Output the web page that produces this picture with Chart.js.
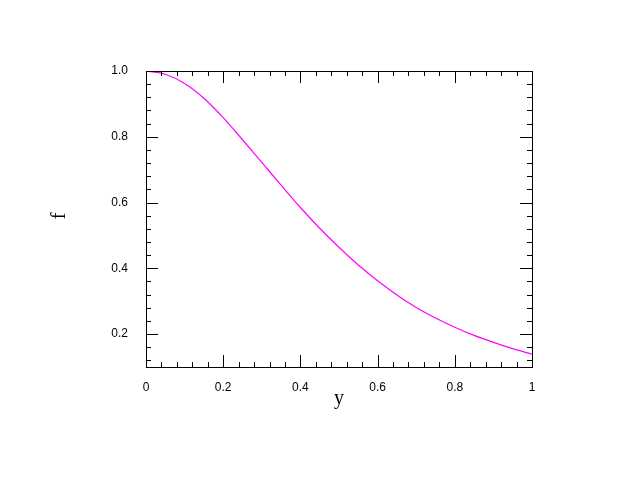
<!DOCTYPE html>
<html>
<head>
<meta charset="utf-8">
<title>f vs y</title>
<script src="https://cdn.jsdelivr.net/npm/chart.js@4/dist/chart.umd.min.js"></script>
<style>
  body { margin: 0; background: #fff; }
  #chart { display: block; }
</style>
</head>
<body>
<canvas id="chart" width="623" height="481"></canvas>
<script>
// values
const yValues = [0, 0.05, 0.1, 0.15, 0.2, 0.25, 0.3, 0.35, 0.4, 0.45, 0.5,
                 0.55, 0.6, 0.65, 0.7, 0.75, 0.8, 0.85, 0.9, 0.95, 1.0];
const fValues = [1.0, 0.990, 0.962, 0.917, 0.858, 0.791, 0.722, 0.653, 0.585, 0.522, 0.464,
                 0.410, 0.362, 0.319, 0.281, 0.249, 0.221, 0.196, 0.175, 0.156, 0.139];

const xMajorTicks = [0, 0.2, 0.4, 0.6, 0.8, 1];
const xTickLabels = ['0', '0.2', '0.4', '0.6', '0.8', '1'];
const yMajorTicks = [0.2, 0.4, 0.6, 0.8, 1.0];
const yTickLabels = ['0.2', '0.4', '0.6', '0.8', '1.0'];

// minor ticks every 0.04
function minorTicks(lo, hi) {
    var out = [];
    for (var i = Math.ceil(lo / 0.04 - 1e-9); i * 0.04 <= hi + 1e-9; i++) {
        var v = +(i * 0.04).toFixed(2);
        if (Math.abs(v / 0.2 - Math.round(v / 0.2)) > 1e-6) out.push(v);
    }
    return out;
}

const frameTicks = {
    id: 'frameTicks',
    afterDatasetsDraw(chart) {
        const ctx = chart.ctx;
        const a = chart.chartArea;
        const xs = chart.scales.x, ys = chart.scales.y;
        ctx.save();
        ctx.strokeStyle = '#000';
        ctx.lineWidth = 1;
        ctx.strokeRect(a.left + 0.5, a.top + 0.5, a.right - a.left, a.bottom - a.top);
        ctx.beginPath();
        function xt(v, len) {
            const px = Math.round(xs.getPixelForValue(v)) + 0.5;
            ctx.moveTo(px, a.bottom); ctx.lineTo(px, a.bottom - len);
            ctx.moveTo(px, a.top); ctx.lineTo(px, a.top + len);
        }
        function yt(v, len) {
            const py = Math.round(ys.getPixelForValue(v)) + 0.5;
            ctx.moveTo(a.left, py); ctx.lineTo(a.left + len, py);
            ctx.moveTo(a.right, py); ctx.lineTo(a.right - len, py);
        }
        xMajorTicks.forEach(v => xt(v, 12));
        minorTicks(0, 1).forEach(v => xt(v, 5));
        yMajorTicks.forEach(v => yt(v, 12));
        minorTicks(0.1, 1).forEach(v => yt(v, 5));
        ctx.stroke();

        // axis titles
        ctx.fillStyle = '#000';
        ctx.font = '20px "Liberation Serif"';
        ctx.textAlign = 'center';
        ctx.textBaseline = 'middle';
        ctx.fillText('y', 339, 399);
        ctx.translate(60, 216);
        ctx.rotate(-Math.PI / 2);
        ctx.fillText('f', 0, 0);
        ctx.restore();
    }
};

new Chart(document.getElementById('chart'), {
    type: 'line',
    data: {
        datasets: [{
            data: yValues.map((v, i) => ({ x: v, y: fValues[i] })),
            borderColor: '#ff00ff',
            borderWidth: 1.2,
            pointRadius: 0,
            fill: false,
            cubicInterpolationMode: 'monotone'
        }]
    },
    options: {
        responsive: false,
        animation: false,
        layout: { padding: { left: 0, top: 71, right: 91, bottom: 0 } },
        plugins: { legend: { display: false }, tooltip: { enabled: false } },
        scales: {
            x: {
                type: 'linear', min: 0, max: 1,
                afterFit(s) { s.height = 114; },
                afterBuildTicks(s) { s.ticks = xMajorTicks.map(v => ({ value: v })); },
                grid: { display: false },
                border: { display: false },
                ticks: {
                    padding: 5, color: '#000', maxRotation: 0,
                    font: { family: '"Liberation Sans"', size: 12 },
                    callback: (v, i) => xTickLabels[i]
                }
            },
            y: {
                type: 'linear', min: 0.1, max: 1.0,
                afterFit(s) { s.width = 146; },
                afterBuildTicks(s) { s.ticks = yMajorTicks.map(v => ({ value: v })); },
                grid: { display: false },
                border: { display: false },
                ticks: {
                    padding: 10, color: '#000',
                    font: { family: '"Liberation Sans"', size: 12 },
                    callback: (v, i) => yTickLabels[i]
                }
            }
        }
    },
    plugins: [frameTicks]
});
</script>
</body>
</html>
